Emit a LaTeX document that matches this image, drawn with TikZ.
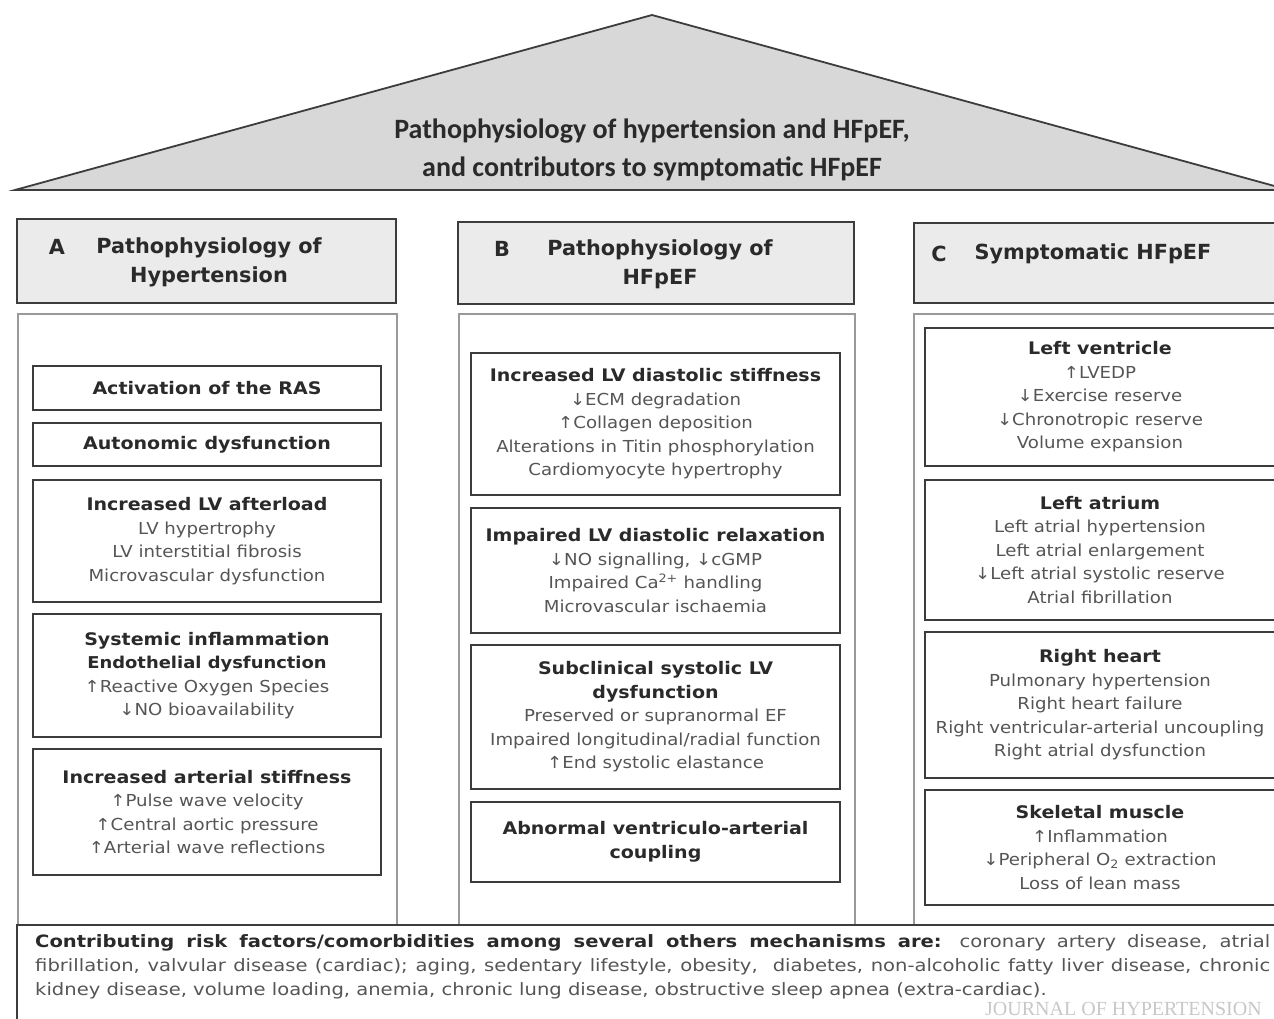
\documentclass[tikz,border=0pt]{standalone}
\usepackage{fontspec}
\setmainfont{DejaVu Sans}
\newfontfamily\calfam{Carlito}
\newfontfamily\serfam{Liberation Serif}
\newfontfamily\boxfam[FakeStretch=1.1]{DejaVu Sans}
\newfontfamily\botfam[FakeStretch=1.15]{DejaVu Sans}
\definecolor{boxline}{HTML}{3C3C3C}
\definecolor{outline}{HTML}{9A9A9A}
\definecolor{hdrfill}{HTML}{EBEBEB}
\definecolor{rooffill}{HTML}{D8D8D8}
\definecolor{headtext}{HTML}{2A2A2A}
\definecolor{bodytext}{HTML}{555555}
\definecolor{wmark}{HTML}{C8C8C8}
\newcommand\bdyf{\boxfam\fontsize{16.5}{23.5}\selectfont}
\newcommand\hd[1]{{\fontsize{17.3}{23.5}\selectfont\bfseries\color{headtext}#1}}
\newcommand\shd[1]{{\fontsize{16.3}{23.5}\selectfont\bfseries\color{headtext}#1}}
\tikzset{
  ibox/.style={draw=boxline, line width=1.8pt, fill=white, align=center, inner sep=0pt, text=bodytext, font=\bdyf},
  hdrbox/.style={draw=boxline, line width=1.8pt, fill=hdrfill, inner sep=0pt},
  colbox/.style={draw=outline, line width=1.6pt, inner sep=0pt},
  hdrtext/.style={font=\fontsize{20.8}{29}\selectfont\bfseries, text=headtext, align=center, inner sep=0pt},
}
\begin{document}
\begin{tikzpicture}[x=1pt,y=-1pt]
\clip (0,0) rectangle (1274,1019);
\fill[white] (0,0) rectangle (1274,1019);

% roof
\draw[fill=rooffill, draw=boxline, line width=1.8pt] (15,190) -- (652,15) -- (1289,190) -- cycle;
\node[align=center, inner sep=0pt, text=headtext, font=\calfam\fontsize{28}{38}\selectfont\bfseries] (roofT) at (652,150)
  {Pathophysiology of hypertension and HFpEF,\\and contributors to symptomatic HFpEF};

% column outer boxes
\node[colbox, minimum width=379pt, minimum height=620pt, anchor=north west] (oA) at (17,313) {};
\node[colbox, minimum width=396pt, minimum height=620pt, anchor=north west] (oB) at (458,313) {};
\node[colbox, minimum width=380pt, minimum height=620pt, anchor=north west] (oC) at (913,313) {};

% headers
\node[hdrbox, minimum width=379pt, minimum height=84pt] (hA) at (206.5,261) {};
\node[hdrbox, minimum width=396pt, minimum height=82pt] (hB) at (656,263) {};
\node[hdrbox, minimum width=380pt, minimum height=80pt, anchor=north west] (hC) at (913,222) {};
\node[hdrtext] (hAl) at (57,247) {A};
\node[hdrtext] (hAt) at (209,262) {Pathophysiology of\\Hypertension};
\node[hdrtext] (hBl) at (502,249) {B};
\node[hdrtext] (hBt) at (660,264) {Pathophysiology of\\HFpEF};
\node[hdrtext] (hCl) at (939,254) {C};
\node[hdrtext] (hCt) at (1093,254) {Symptomatic HFpEF};

% column A
\node[ibox, minimum width=348pt, minimum height=44pt] (ras) at (207,388) {\hd{Activation of the RAS}};
\node[ibox, minimum width=348pt, minimum height=43pt] (auto) at (207,444.5) {\hd{Autonomic dysfunction}};
\node[ibox, minimum width=348pt, minimum height=122pt] (afterload) at (207,541)
  {\hd{Increased LV afterload}\\LV hypertrophy\\LV interstitial fibrosis\\Microvascular dysfunction};
\node[ibox, minimum width=348pt, minimum height=123pt] (inflam) at (207,675.5)
  {\hd{Systemic inflammation}\\\shd{Endothelial dysfunction}\\↑Reactive Oxygen Species\\↓NO bioavailability};
\node[ibox, minimum width=348pt, minimum height=126pt] (stiff) at (207,812)
  {\hd{Increased arterial stiffness}\\↑Pulse wave velocity\\↑Central aortic pressure\\↑Arterial wave reflections};

% column B
\node[ibox, minimum width=369pt, minimum height=142pt] (dstiff) at (655.5,424)
  {\hd{Increased LV diastolic stiffness}\\↓ECM degradation\\↑Collagen deposition\\Alterations in Titin phosphorylation\\Cardiomyocyte hypertrophy};
\node[ibox, minimum width=369pt, minimum height=125pt] (relax) at (655.5,570.5)
  {\hd{Impaired LV diastolic relaxation}\\↓NO signalling, ↓cGMP\\Impaired Ca\textsuperscript{2+} handling\\Microvascular ischaemia};
\node[ibox, minimum width=369pt, minimum height=144pt] (subcl) at (655.5,717)
  {\hd{Subclinical systolic LV}\\\hd{dysfunction}\\Preserved or supranormal EF\\Impaired longitudinal/radial function\\↑End systolic elastance};
\node[ibox, minimum width=369pt, minimum height=80pt] (coupl) at (655.5,842)
  {\hd{Abnormal ventriculo-arterial}\\\hd{coupling}};

% column C
\node[ibox, minimum width=350pt, minimum height=138pt] (lv) at (1100,397)
  {\hd{Left ventricle}\\↑LVEDP\\↓Exercise reserve\\↓Chronotropic reserve\\Volume expansion};
\node[ibox, minimum width=350pt, minimum height=140pt] (la) at (1100,550)
  {\hd{Left atrium}\\Left atrial hypertension\\Left atrial enlargement\\↓Left atrial systolic reserve\\Atrial fibrillation};
\node[ibox, minimum width=350pt, minimum height=146pt] (rh) at (1100,705)
  {\hd{Right heart}\\Pulmonary hypertension\\Right heart failure\\Right ventricular-arterial uncoupling\\Right atrial dysfunction};
\node[ibox, minimum width=350pt, minimum height=115pt] (sm) at (1100,847.5)
  {\hd{Skeletal muscle}\\↑Inflammation\\↓Peripheral O\textsubscript{2} extraction\\Loss of lean mass};

% bottom box
\fill[white] (17,925) rectangle (1290,1030);
\draw[draw=boxline, line width=1.8pt] (1290,925) -- (17,925) -- (17,1030);
\node[anchor=west, inner sep=0pt, text=wmark, font=\serfam\fontsize{20}{21}\selectfont] (wm) at (985,1009) {JOURNAL OF HYPERTENSION};
\node[anchor=north west, inner sep=0pt, text width=1235pt, align=justify, text=bodytext,
      font=\botfam\fontsize{17}{24}\selectfont] (risk) at (35,934)
  {{\color{headtext}\bfseries Contributing risk factors/comorbidities among several others mechanisms are:} coronary artery disease, atrial\linebreak fibrillation, valvular disease (cardiac); aging, sedentary lifestyle, obesity, \ diabetes, non-alcoholic fatty liver disease, chronic\linebreak kidney disease, volume loading, anemia, chronic lung disease, obstructive sleep apnea (extra-cardiac).};
\end{tikzpicture}
\end{document}
